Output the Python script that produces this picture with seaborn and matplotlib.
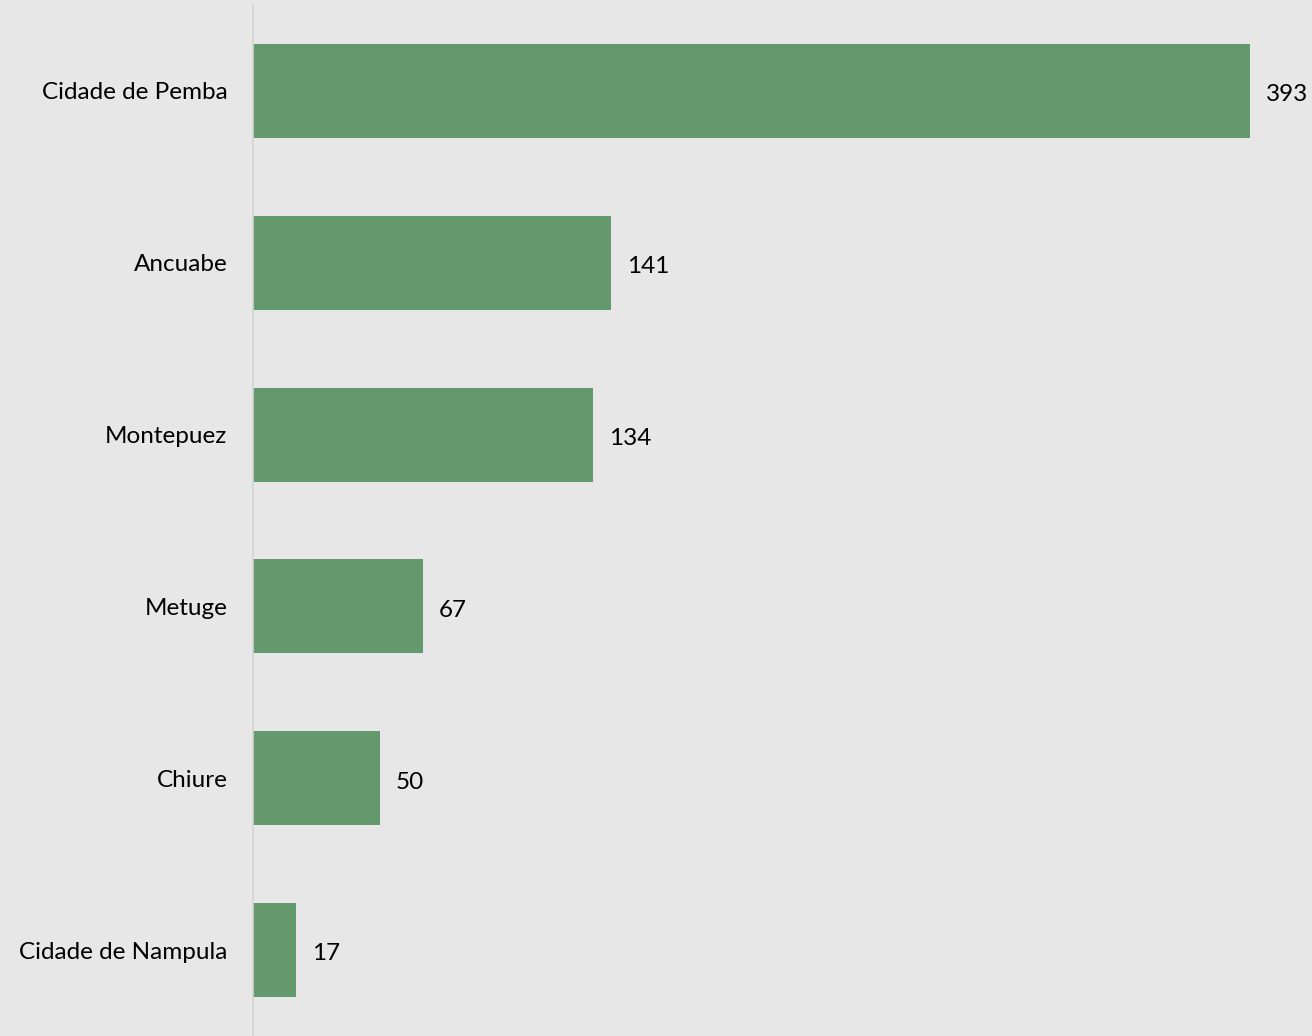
import matplotlib
matplotlib.use("Agg")
import matplotlib.pyplot as plt
import seaborn as sns
import pandas as pd

districts = ["Cidade de Pemba", "Ancuabe", "Montepuez", "Metuge", "Chiure", "Cidade de Nampula"]
counts = [393, 141, 134, 67, 50, 17]

df = pd.DataFrame({"district": districts, "count": counts})

bg = "#e7e7e7"
bar_color = "#64996e"

sns.set_theme(style="white")
plt.rcParams["font.family"] = ["Lato", "DejaVu Sans"]

fig = plt.figure(figsize=(13.12, 10.36), dpi=100, facecolor=bg)
ax = fig.add_axes([253 / 1312, 0.0, (1312 - 253) / 1312, 1 - 5 / 1036])
ax.set_facecolor(bg)

sns.barplot(data=df, y="district", x="count", color=bar_color, width=0.547,
            saturation=1, orient="h", linewidth=0, edgecolor="none", ax=ax)

ax.set_xlim(0, (1312 - 253) / ((1250 - 253) / 393))
ax.set_ylim(5.5, -0.5)

for i, v in enumerate(counts):
    ax.annotate(f"{v}", xy=(v, i), xytext=(11.5, -2.8), textcoords="offset points",
                va="center", ha="left", fontsize=17.5, color="black")

ax.set_xlabel("")
ax.set_ylabel("")
ax.set_xticks([])
ax.tick_params(axis="y", length=0, pad=18.5, labelsize=17.5, labelcolor="black")
for s in ["top", "right", "bottom"]:
    ax.spines[s].set_visible(False)
ax.spines["left"].set_color("#d4d4d4")
ax.spines["left"].set_linewidth(1.2)

fig.savefig("out.png", dpi=100, facecolor=bg)
